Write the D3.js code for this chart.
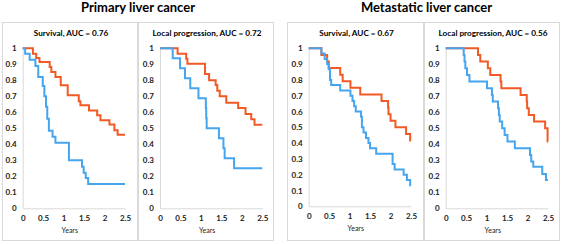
<!DOCTYPE html>
<html><head><meta charset="utf-8">
<script src="https://cdn.jsdelivr.net/npm/d3@7"></script>
<style>
html,body{margin:0;padding:0;background:#fff;}
svg{display:block;font-family:Lato,"Open Sans",sans-serif;}
</style></head>
<body>
<svg id="chart" width="562" height="244"></svg>
<script>
// ---- data (time in years, survival fraction after each step) ----
const groupTitles = ["Primary liver cancer", "Metastatic liver cancer"];
const panelTitles = ["Survival, AUC = 0.76", "Local progression, AUC = 0.72",
                     "Survival, AUC = 0.67", "Local progression, AUC = 0.56"];
const xTicks = [0, 0.5, 1, 1.5, 2, 2.5];
const yTicks = [0, 0.1, 0.2, 0.3, 0.4, 0.5, 0.6, 0.7, 0.8, 0.9, 1];
const xLabel = "Years";
const xMax = 2.5;

const primarySurvivalOrange = [[0,1],[0.25,0.966],[0.33,0.939],[0.41,0.914],[0.66,0.883],[0.70,0.852],[0.80,0.82],[0.93,0.769],[1.10,0.706],[1.37,0.669],[1.41,0.644],[1.62,0.612],[1.82,0.581],[1.90,0.55],[2.12,0.523],[2.24,0.488],[2.32,0.46]];
const primarySurvivalBlue = [[0,1],[0.06,0.966],[0.17,0.928],[0.31,0.89],[0.38,0.82],[0.49,0.765],[0.53,0.70],[0.57,0.635],[0.60,0.56],[0.64,0.485],[0.73,0.447],[0.80,0.41],[1.13,0.30],[1.45,0.26],[1.49,0.222],[1.54,0.19],[1.60,0.152]];

const primaryProgressionOrange = [[0,1],[0.43,0.966],[0.64,0.935],[0.67,0.904],[1.10,0.84],[1.20,0.80],[1.36,0.77],[1.40,0.735],[1.46,0.70],[1.62,0.66],[1.91,0.627],[2.09,0.59],[2.23,0.556],[2.31,0.522]];
const primaryProgressionBlue = [[0,1],[0.31,0.9375],[0.49,0.875],[0.61,0.8125],[0.74,0.75],[0.94,0.6875],[1.12,0.625],[1.13,0.5625],[1.14,0.5],[1.44,0.4375],[1.55,0.375],[1.58,0.3125],[1.81,0.25]];

const metastaticSurvivalOrange = [[0,1],[0.31,0.958],[0.45,0.917],[0.49,0.875],[0.77,0.833],[0.83,0.792],[1.02,0.75],[1.26,0.708],[1.78,0.667],[1.94,0.625],[1.95,0.583],[2.00,0.542],[2.12,0.5],[2.38,0.458],[2.48,0.417]];
const metastaticSurvivalBlue = [[0,1],[0.31,0.967],[0.39,0.933],[0.45,0.9],[0.49,0.867],[0.52,0.8],[0.55,0.767],[0.77,0.733],[1.02,0.7],[1.07,0.667],[1.11,0.633],[1.15,0.6],[1.28,0.567],[1.30,0.5],[1.34,0.467],[1.40,0.433],[1.46,0.4],[1.50,0.367],[1.65,0.333],[2.05,0.267],[2.10,0.233],[2.32,0.2],[2.40,0.167],[2.48,0.133]];

const metastaticProgressionOrange = [[0,1],[0.79,0.958],[0.845,0.917],[1.03,0.875],[1.09,0.833],[1.34,0.792],[1.36,0.75],[1.83,0.708],[1.98,0.667],[1.99,0.625],[2.03,0.583],[2.16,0.542],[2.43,0.5],[2.49,0.417]];
const metastaticProgressionBlue = [[0,1],[0.44,0.958],[0.46,0.917],[0.48,0.875],[0.52,0.833],[0.58,0.792],[1.01,0.75],[1.13,0.708],[1.15,0.667],[1.28,0.625],[1.30,0.583],[1.32,0.542],[1.38,0.5],[1.44,0.458],[1.51,0.417],[1.69,0.375],[2.06,0.333],[2.09,0.292],[2.14,0.26],[2.36,0.215],[2.45,0.177]];

const seriesColors = ["#F15A24", "#45A5EE"];

// ---- layout ----
const panels = [
  {box:[2,22,136,219],  plotX:22.7,  plotTop:48.3, plotBottom:208.3, title:panelTitles[0], series:[primarySurvivalOrange, primarySurvivalBlue]},
  {box:[138,22,136,219],plotX:160,   plotTop:48.3, plotBottom:208.3, title:panelTitles[1], series:[primaryProgressionOrange, primaryProgressionBlue]},
  {box:[287,22,137,219],plotX:308.7, plotTop:48.3, plotBottom:206.3, title:panelTitles[2], series:[metastaticSurvivalOrange, metastaticSurvivalBlue]},
  {box:[424,22,136,219],plotX:445.7, plotTop:48.3, plotBottom:208.3, title:panelTitles[3], series:[metastaticProgressionOrange, metastaticProgressionBlue]}
];
const plotW = 102.3;

const svg = d3.select("#chart");
svg.append("rect").attr("width",562).attr("height",244).attr("fill","#fff");

// group titles
[[138,12,groupTitles[0]],[426.5,12,groupTitles[1]]].forEach(([x,y,t])=>{
  svg.append("text").attr("x",x).attr("y",y).attr("text-anchor","middle")
    .attr("font-size",13).attr("font-weight","bold").attr("fill","#000").text(t);
});

panels.forEach(p=>{
  const [bx,by,bw,bh] = p.box;
  svg.append("rect").attr("x",bx+0.5).attr("y",by+0.5).attr("width",bw-1).attr("height",bh-1)
    .attr("fill","none").attr("stroke","#d9d9d9").attr("stroke-width",1);

  const x = d3.scaleLinear().domain([0,xMax]).range([p.plotX, p.plotX+plotW]);
  const y = d3.scaleLinear().domain([0,1]).range([p.plotBottom, p.plotTop]);

  svg.append("text").attr("x",bx+bw/2+1).attr("y",36).attr("text-anchor","middle")
    .attr("font-size",8.2).attr("font-weight","bold").attr("fill","#000").text(p.title);

  // axes
  const gy = svg.append("g").attr("transform",`translate(${p.plotX},0)`)
    .call(d3.axisLeft(y).tickValues(yTicks).tickSize(0).tickPadding(6).tickFormat(d3.format("~g")));
  const gx = svg.append("g").attr("transform",`translate(0,${p.plotBottom})`)
    .call(d3.axisBottom(x).tickValues(xTicks).tickSize(0).tickPadding(7).tickFormat(d3.format("~g")));
  [gx,gy].forEach(g=>{
    g.select(".domain").attr("stroke","#d9d9d9").attr("stroke-width",1);
    g.selectAll("text").attr("font-size",8).attr("font-weight","bold").attr("fill","#222")
      .attr("font-family","Lato, 'Open Sans', sans-serif");
  });

  svg.append("text").attr("x",p.plotX+plotW*0.46).attr("y",p.plotBottom+25).attr("text-anchor","middle")
    .attr("font-size",7).attr("fill","#222").text(xLabel);

  const line = d3.line().x(d=>x(d[0])).y(d=>y(d[1])).curve(d3.curveStepAfter);
  p.series.forEach((s,i)=>{
    const pts = s.concat([[xMax, s[s.length-1][1]]]);
    svg.append("path").attr("d",line(pts)).attr("fill","none")
      .attr("stroke",seriesColors[i]).attr("stroke-width",2).attr("stroke-linejoin","miter");
  });
});
</script>
</body></html>
